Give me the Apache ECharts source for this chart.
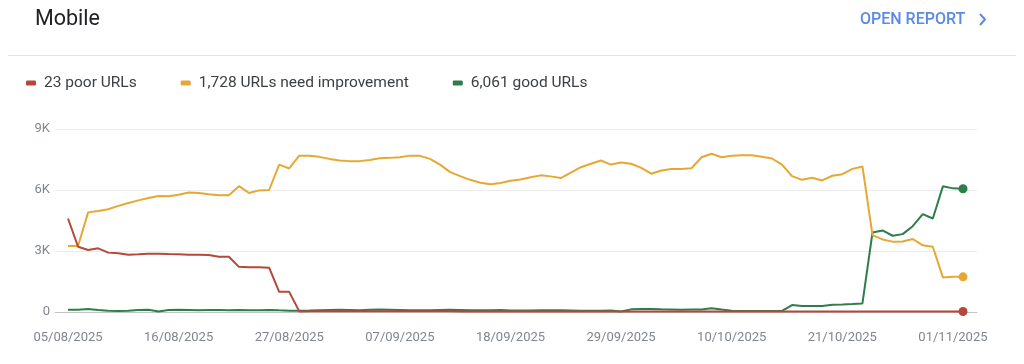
<!DOCTYPE html>
<html>
<head>
<meta charset="utf-8">
<script src="https://cdn.jsdelivr.net/npm/echarts@6/dist/echarts.min.js"></script>
<style>
html,body{margin:0;padding:0;background:#fff;}
#chart{width:1024px;height:364px;}
</style>
</head>
<body>
<div id="chart"></div>
<script>
const dates = [
"05/08/2025","06/08/2025","07/08/2025","08/08/2025","09/08/2025","10/08/2025","11/08/2025","12/08/2025","13/08/2025","14/08/2025",
"15/08/2025","16/08/2025","17/08/2025","18/08/2025","19/08/2025","20/08/2025","21/08/2025","22/08/2025","23/08/2025","24/08/2025",
"25/08/2025","26/08/2025","27/08/2025","28/08/2025","29/08/2025","30/08/2025","31/08/2025","01/09/2025","02/09/2025","03/09/2025",
"04/09/2025","05/09/2025","06/09/2025","07/09/2025","08/09/2025","09/09/2025","10/09/2025","11/09/2025","12/09/2025","13/09/2025",
"14/09/2025","15/09/2025","16/09/2025","17/09/2025","18/09/2025","19/09/2025","20/09/2025","21/09/2025","22/09/2025","23/09/2025",
"24/09/2025","25/09/2025","26/09/2025","27/09/2025","28/09/2025","29/09/2025","30/09/2025","01/10/2025","02/10/2025","03/10/2025",
"04/10/2025","05/10/2025","06/10/2025","07/10/2025","08/10/2025","09/10/2025","10/10/2025","11/10/2025","12/10/2025","13/10/2025",
"14/10/2025","15/10/2025","16/10/2025","17/10/2025","18/10/2025","19/10/2025","20/10/2025","21/10/2025","22/10/2025","23/10/2025",
"24/10/2025","25/10/2025","26/10/2025","27/10/2025","28/10/2025","29/10/2025","30/10/2025","31/10/2025","01/11/2025","02/11/2025"
];

const poorUrls = [
4600,3210,3050,3130,2920,2890,2820,2840,2870,2870,
2850,2840,2820,2820,2800,2720,2720,2220,2200,2200,
2180,990,990,30,32,35,38,40,40,38,
36,35,35,34,33,33,32,32,31,30,
30,30,29,29,28,28,28,27,27,27,
26,26,26,26,25,25,25,25,25,24,
24,24,24,24,24,24,23,23,23,23,
23,23,23,23,23,23,23,23,23,23,
23,23,23,23,23,23,23,23,23,23
];

const needImprovementUrls = [
3250,3250,4900,4970,5050,5220,5360,5490,5610,5700,
5690,5770,5880,5850,5790,5740,5740,6190,5850,5980,
6000,7250,7060,7690,7690,7630,7530,7450,7420,7420,
7480,7560,7580,7610,7690,7680,7530,7250,6880,6680,
6500,6360,6280,6340,6450,6520,6630,6720,6670,6590,
6860,7120,7290,7450,7250,7350,7290,7090,6800,6960,
7030,7030,7070,7610,7780,7610,7680,7710,7710,7630,
7550,7250,6680,6500,6600,6470,6700,6780,7040,7160,
3780,3570,3460,3470,3590,3280,3210,1700,1730,1728
];

const goodUrls = [
115,115,145,100,65,50,65,100,115,30,
100,115,100,80,100,100,80,100,80,80,
100,80,65,60,70,90,100,110,100,90,
110,120,110,100,90,80,90,100,110,100,
90,80,90,100,70,70,70,80,90,80,
70,60,60,60,70,20,130,150,150,130,
120,110,120,120,190,120,60,50,50,50,
50,50,340,290,290,290,360,370,390,420,
3910,4010,3750,3830,4220,4810,4600,6180,6080,6061
];

const seriesNames = ["23 poor URLs", "1,728 URLs need improvement", "6,061 good URLs"];
const yTicks = [0, 3000, 6000, 9000];

const colors = { poor: "#b5473b", need: "#e6a832", good: "#2f7d4b" };

function withEndDot(arr) {
  return arr.map((v, i) => i === arr.length - 1 ? { value: v, symbol: "circle", symbolSize: 9 } : v);
}

const chart = echarts.init(document.getElementById("chart"), null, { renderer: "canvas" });

const font = "Roboto, 'Noto Sans', sans-serif";

chart.setOption({
  animation: false,
  backgroundColor: "#ffffff",
  title: {
    text: "Mobile",
    left: 30,
    top: 4,
    textStyle: { fontFamily: font, fontSize: 21.5, fontWeight: "normal", color: "#202124" }
  },
  graphic: [
    {
      type: "line",
      shape: { x1: 8, y1: 55.5, x2: 1016, y2: 55.5 },
      style: { stroke: "#e3e3e3", lineWidth: 1 }
    },
    {
      type: "text",
      left: 860,
      top: 12,
      style: { text: "OPEN REPORT", fill: "#5b8ae6", font: "500 16px " + font }
    },
    {
      type: "polyline",
      shape: { points: [[980, 14], [985, 19.5], [980, 25]] },
      style: { stroke: "#5b8ae6", lineWidth: 2, fill: null }
    }
  ],
  legend: {
    left: 26,
    top: 75,
    padding: 0,
    icon: "roundRect",
    itemWidth: 10,
    itemHeight: 5,
    itemGap: 44,
    data: seriesNames,
    textStyle: { fontFamily: font, fontSize: 15.5, color: "#3c4043", padding: [0, 0, 0, 3] }
  },
  grid: [
    { left: 55, right: 47, top: 129, bottom: 52, containLabel: false },
    { left: 68, right: 61, top: 129, bottom: 52, containLabel: false }
  ],
  xAxis: [
    {
      gridIndex: 0,
      type: "value",
      min: 0,
      max: 1,
      axisLine: { show: true, onZero: false, lineStyle: { color: "#c4c4c4", width: 1 } },
      axisTick: { show: false },
      axisLabel: { show: false },
      splitLine: { show: false }
    },
    {
      gridIndex: 1,
      type: "category",
      data: dates,
      boundaryGap: false,
      axisLine: { show: false },
      axisTick: { show: false },
      axisLabel: {
        interval: 10,
        margin: 19,
        color: "#80868b",
        fontFamily: font,
        fontSize: 13
      },
      splitLine: { show: false }
    }
  ],
  yAxis: [
    {
      gridIndex: 0,
      type: "value",
      min: yTicks[0],
      max: yTicks[yTicks.length - 1],
      interval: 3000,
      axisLine: { show: false },
      axisTick: { show: false },
      axisLabel: {
        margin: 5,
        color: "#80868b",
        fontFamily: font,
        fontSize: 13,
        formatter: v => v === 0 ? "0" : (v / 1000) + "K"
      },
      splitLine: { show: true, lineStyle: { color: "#ececec", width: 1 } }
    },
    {
      gridIndex: 1,
      type: "value",
      min: yTicks[0],
      max: yTicks[yTicks.length - 1],
      interval: 3000,
      show: false,
      splitLine: { show: false }
    }
  ],
  series: [
    {
      name: seriesNames[2],
      type: "line",
      xAxisIndex: 1,
      yAxisIndex: 1,
      data: withEndDot(goodUrls),
      symbol: "none",
      showSymbol: true,
      showAllSymbol: true,
      color: colors.good,
      lineStyle: { width: 2, color: colors.good },
      itemStyle: { color: colors.good },
      z: 3
    },
    {
      name: seriesNames[1],
      type: "line",
      xAxisIndex: 1,
      yAxisIndex: 1,
      data: withEndDot(needImprovementUrls),
      symbol: "none",
      showSymbol: true,
      showAllSymbol: true,
      color: colors.need,
      lineStyle: { width: 2, color: colors.need },
      itemStyle: { color: colors.need },
      z: 4
    },
    {
      name: seriesNames[0],
      type: "line",
      xAxisIndex: 1,
      yAxisIndex: 1,
      data: withEndDot(poorUrls),
      symbol: "none",
      showSymbol: true,
      showAllSymbol: true,
      color: colors.poor,
      lineStyle: { width: 2, color: colors.poor },
      itemStyle: { color: colors.poor },
      z: 5
    }
  ]
});
</script>
</body>
</html>
